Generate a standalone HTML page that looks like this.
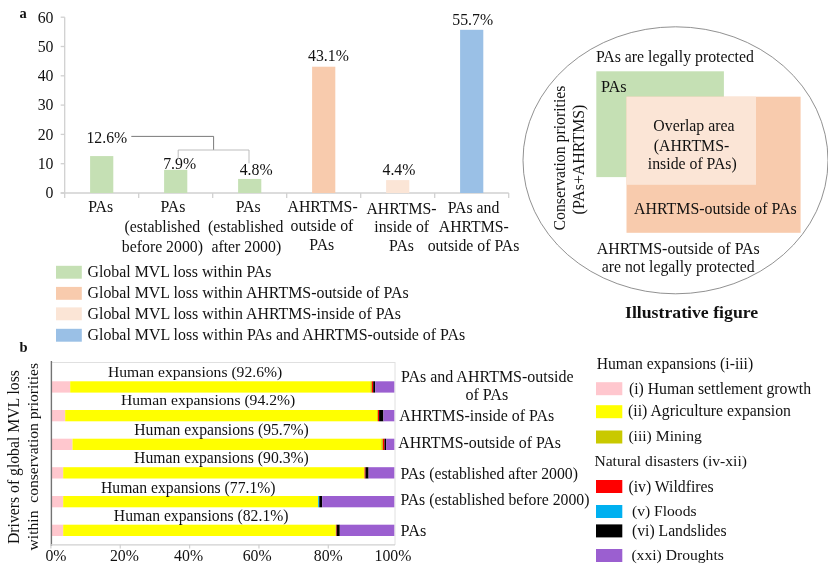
<!DOCTYPE html>
<html lang="en">
<head>
<meta charset="utf-8">
<title>Global MVL loss within conservation priorities</title>
<style>
html,body{margin:0;padding:0;background:#ffffff;}
body{width:828px;height:574px;overflow:hidden;}
svg{display:block;will-change:transform;}
svg text{font-family:"Liberation Serif","DejaVu Serif",serif;fill:#111111;}
</style>
</head>
<body>
<svg width="828" height="574" viewBox="0 0 828 574">
<rect x="0" y="0" width="828" height="574" fill="#ffffff"/>
<g id="panel-a">
<text x="19.60" y="18.00" font-size="14.50" text-anchor="start" font-weight="bold">a</text>
<line x1="64.70" y1="17.20" x2="64.70" y2="198.00" stroke="#d0d0d0" stroke-width="1.3"/>
<line x1="60.70" y1="193.00" x2="64.70" y2="193.00" stroke="#d0d0d0" stroke-width="1.3"/>
<text x="53.50" y="198.30" font-size="15.80" text-anchor="end">0</text>
<line x1="60.70" y1="163.70" x2="64.70" y2="163.70" stroke="#d0d0d0" stroke-width="1.3"/>
<text x="53.50" y="169.00" font-size="15.80" text-anchor="end">10</text>
<line x1="60.70" y1="134.40" x2="64.70" y2="134.40" stroke="#d0d0d0" stroke-width="1.3"/>
<text x="53.50" y="139.70" font-size="15.80" text-anchor="end">20</text>
<line x1="60.70" y1="105.10" x2="64.70" y2="105.10" stroke="#d0d0d0" stroke-width="1.3"/>
<text x="53.50" y="110.40" font-size="15.80" text-anchor="end">30</text>
<line x1="60.70" y1="75.80" x2="64.70" y2="75.80" stroke="#d0d0d0" stroke-width="1.3"/>
<text x="53.50" y="81.10" font-size="15.80" text-anchor="end">40</text>
<line x1="60.70" y1="46.50" x2="64.70" y2="46.50" stroke="#d0d0d0" stroke-width="1.3"/>
<text x="53.50" y="51.80" font-size="15.80" text-anchor="end">50</text>
<line x1="60.70" y1="17.20" x2="64.70" y2="17.20" stroke="#d0d0d0" stroke-width="1.3"/>
<text x="53.50" y="22.50" font-size="15.80" text-anchor="end">60</text>
<line x1="60.70" y1="193.00" x2="508.70" y2="193.00" stroke="#d0d0d0" stroke-width="1.3"/>
<line x1="138.70" y1="193.00" x2="138.70" y2="198.00" stroke="#d0d0d0" stroke-width="1.3"/>
<line x1="212.70" y1="193.00" x2="212.70" y2="198.00" stroke="#d0d0d0" stroke-width="1.3"/>
<line x1="286.70" y1="193.00" x2="286.70" y2="198.00" stroke="#d0d0d0" stroke-width="1.3"/>
<line x1="360.70" y1="193.00" x2="360.70" y2="198.00" stroke="#d0d0d0" stroke-width="1.3"/>
<line x1="434.70" y1="193.00" x2="434.70" y2="198.00" stroke="#d0d0d0" stroke-width="1.3"/>
<line x1="508.70" y1="193.00" x2="508.70" y2="198.00" stroke="#d0d0d0" stroke-width="1.3"/>
<rect x="90.10" y="156.08" width="23.20" height="36.92" fill="#c5e0b4"/>
<rect x="164.10" y="169.85" width="23.20" height="23.15" fill="#c5e0b4"/>
<rect x="238.10" y="178.94" width="23.20" height="14.06" fill="#c5e0b4"/>
<rect x="312.10" y="66.72" width="23.20" height="126.28" fill="#f8cbad"/>
<rect x="386.10" y="180.11" width="23.20" height="12.89" fill="#fbe5d6"/>
<rect x="460.10" y="29.80" width="23.20" height="163.20" fill="#9ac0e6"/>
<text x="86.48" y="143.30" font-size="15.80" text-anchor="start" textLength="40.81" lengthAdjust="spacingAndGlyphs">12.6%</text>
<text x="163.23" y="168.70" font-size="15.80" text-anchor="start" textLength="32.91" lengthAdjust="spacingAndGlyphs">7.9%</text>
<text x="239.73" y="175.20" font-size="15.80" text-anchor="start" textLength="32.91" lengthAdjust="spacingAndGlyphs">4.8%</text>
<text x="308.08" y="60.60" font-size="15.80" text-anchor="start" textLength="40.81" lengthAdjust="spacingAndGlyphs">43.1%</text>
<text x="382.53" y="175.40" font-size="15.80" text-anchor="start" textLength="32.91" lengthAdjust="spacingAndGlyphs">4.4%</text>
<text x="452.28" y="25.10" font-size="15.80" text-anchor="start" textLength="40.81" lengthAdjust="spacingAndGlyphs">55.7%</text>
<path d="M131.3 136.4 H213.6 V150.0" fill="none" stroke="#6b6b6b" stroke-width="0.9"/>
<path d="M178.2 159 V150.0 H249 V163.3" fill="none" stroke="#b5b5b5" stroke-width="0.9"/>
<text x="88.26" y="211.80" font-size="15.80" text-anchor="start" textLength="24.90" lengthAdjust="spacingAndGlyphs">PAs</text>
<text x="160.46" y="211.80" font-size="15.80" text-anchor="start" textLength="24.90" lengthAdjust="spacingAndGlyphs">PAs</text>
<text x="124.58" y="232.20" font-size="15.80" text-anchor="start" textLength="75.46" lengthAdjust="spacingAndGlyphs">(established</text>
<text x="121.83" y="251.60" font-size="15.80" text-anchor="start" textLength="81.16" lengthAdjust="spacingAndGlyphs">before 2000)</text>
<text x="235.76" y="211.80" font-size="15.80" text-anchor="start" textLength="24.90" lengthAdjust="spacingAndGlyphs">PAs</text>
<text x="207.98" y="232.20" font-size="15.80" text-anchor="start" textLength="75.46" lengthAdjust="spacingAndGlyphs">(established</text>
<text x="211.42" y="251.60" font-size="15.80" text-anchor="start" textLength="69.75" lengthAdjust="spacingAndGlyphs">after 2000)</text>
<text x="287.52" y="212.20" font-size="15.80" text-anchor="start" textLength="70.16" lengthAdjust="spacingAndGlyphs">AHRTMS-</text>
<text x="290.60" y="231.20" font-size="15.80" text-anchor="start" textLength="62.75" lengthAdjust="spacingAndGlyphs">outside of</text>
<text x="309.36" y="250.30" font-size="15.80" text-anchor="start" textLength="24.90" lengthAdjust="spacingAndGlyphs">PAs</text>
<text x="366.42" y="213.60" font-size="15.80" text-anchor="start" textLength="70.16" lengthAdjust="spacingAndGlyphs">AHRTMS-</text>
<text x="374.25" y="232.10" font-size="15.80" text-anchor="start" textLength="54.85" lengthAdjust="spacingAndGlyphs">inside of</text>
<text x="389.06" y="251.40" font-size="15.80" text-anchor="start" textLength="24.90" lengthAdjust="spacingAndGlyphs">PAs</text>
<text x="447.67" y="213.10" font-size="15.80" text-anchor="start" textLength="51.66" lengthAdjust="spacingAndGlyphs">PAs and</text>
<text x="438.72" y="232.10" font-size="15.80" text-anchor="start" textLength="70.16" lengthAdjust="spacingAndGlyphs">AHRTMS-</text>
<text x="427.72" y="251.40" font-size="15.80" text-anchor="start" textLength="91.60" lengthAdjust="spacingAndGlyphs">outside of PAs</text>
<rect x="56.00" y="265.80" width="25.80" height="12.90" fill="#c5e0b4"/>
<text x="87.50" y="277.00" font-size="15.86" text-anchor="start" textLength="183.89" lengthAdjust="spacingAndGlyphs">Global MVL loss within PAs</text>
<rect x="56.00" y="286.90" width="25.80" height="12.90" fill="#f8cbad"/>
<text x="87.50" y="297.80" font-size="15.90" text-anchor="start" textLength="321.12" lengthAdjust="spacingAndGlyphs">Global MVL loss within AHRTMS-outside of PAs</text>
<rect x="56.00" y="307.40" width="25.80" height="12.90" fill="#fbe5d6"/>
<text x="87.50" y="318.70" font-size="15.90" text-anchor="start" textLength="313.32" lengthAdjust="spacingAndGlyphs">Global MVL loss within AHRTMS-inside of PAs</text>
<rect x="56.00" y="328.80" width="25.80" height="12.90" fill="#9ac0e6"/>
<text x="87.50" y="340.00" font-size="15.92" text-anchor="start" textLength="377.61" lengthAdjust="spacingAndGlyphs">Global MVL loss within PAs and AHRTMS-outside of PAs</text>
</g>
<g id="illustration">
<ellipse cx="675.5" cy="160.3" rx="152.5" ry="133.5" fill="none" stroke="#7d7d7d" stroke-width="0.85"/>
<rect x="596.30" y="71.30" width="127.60" height="105.80" fill="#c5e0b4"/>
<rect x="626.50" y="96.70" width="174.10" height="136.10" fill="#f8cbad"/>
<rect x="626.50" y="96.70" width="129.50" height="88.10" fill="#fbe5d6"/>
<text x="595.90" y="61.50" font-size="15.82" text-anchor="start" textLength="157.96" lengthAdjust="spacingAndGlyphs">PAs are legally protected</text>
<text x="600.90" y="92.20" font-size="16.25" text-anchor="start" textLength="25.61" lengthAdjust="spacingAndGlyphs">PAs</text>
<text x="653.33" y="130.80" font-size="15.80" text-anchor="start" textLength="81.14" lengthAdjust="spacingAndGlyphs">Overlap area</text>
<text x="653.78" y="150.50" font-size="15.80" text-anchor="start" textLength="75.42" lengthAdjust="spacingAndGlyphs">(AHRTMS-</text>
<text x="647.82" y="168.70" font-size="15.80" text-anchor="start" textLength="88.96" lengthAdjust="spacingAndGlyphs">inside of PAs)</text>
<text x="634.00" y="213.50" font-size="15.88" text-anchor="start" textLength="162.57" lengthAdjust="spacingAndGlyphs">AHRTMS-outside of PAs</text>
<text x="596.70" y="253.50" font-size="15.93" text-anchor="start" textLength="163.07" lengthAdjust="spacingAndGlyphs">AHRTMS-outside of PAs</text>
<text x="601.70" y="272.00" font-size="15.79" text-anchor="start" textLength="153.00" lengthAdjust="spacingAndGlyphs">are not legally protected</text>
<text x="565.30" y="230.50" font-size="15.77" textLength="144.97" lengthAdjust="spacingAndGlyphs" transform="rotate(-90 565.30 230.50)">Conservation priorities</text>
<text x="583.80" y="214.40" font-size="15.88" textLength="109.77" lengthAdjust="spacingAndGlyphs" transform="rotate(-90 583.80 214.40)">(PAs+AHRTMS)</text>
<text x="625.00" y="317.90" font-size="17.74" text-anchor="start" font-weight="bold" textLength="133.17" lengthAdjust="spacingAndGlyphs">Illustrative figure</text>
</g>
<g id="panel-b">
<text x="19.60" y="352.40" font-size="14.50" text-anchor="start" font-weight="bold">b</text>
<line x1="51.90" y1="362.50" x2="395.00" y2="362.50" stroke="#e0e0e0" stroke-width="1"/>
<line x1="395.00" y1="362.00" x2="395.00" y2="545.00" stroke="#e0e0e0" stroke-width="1"/>
<rect x="51.90" y="381.30" width="18.30" height="11.30" fill="#ffc7ce"/>
<rect x="70.20" y="381.30" width="300.20" height="11.30" fill="#ffff00"/>
<rect x="370.40" y="381.30" width="1.50" height="11.30" fill="#c9c900"/>
<rect x="371.90" y="381.30" width="1.30" height="11.30" fill="#ff0000"/>
<rect x="373.20" y="381.30" width="2.00" height="11.30" fill="#000000"/>
<rect x="375.20" y="381.30" width="19.10" height="11.30" fill="#9b5fd0"/>
<rect x="51.90" y="410.00" width="13.30" height="11.30" fill="#ffc7ce"/>
<rect x="65.20" y="410.00" width="311.90" height="11.30" fill="#ffff00"/>
<rect x="377.10" y="410.00" width="0.90" height="11.30" fill="#c9c900"/>
<rect x="378.00" y="410.00" width="1.10" height="11.30" fill="#ff0000"/>
<rect x="379.10" y="410.00" width="4.30" height="11.30" fill="#000000"/>
<rect x="383.40" y="410.00" width="10.90" height="11.30" fill="#9b5fd0"/>
<rect x="51.90" y="438.70" width="20.60" height="11.30" fill="#ffc7ce"/>
<rect x="72.50" y="438.70" width="308.80" height="11.30" fill="#ffff00"/>
<rect x="381.30" y="438.70" width="1.60" height="11.30" fill="#c9c900"/>
<rect x="382.90" y="438.70" width="1.60" height="11.30" fill="#ff0000"/>
<rect x="384.50" y="438.70" width="1.60" height="11.30" fill="#000000"/>
<rect x="386.10" y="438.70" width="8.20" height="11.30" fill="#9b5fd0"/>
<rect x="51.90" y="467.20" width="11.30" height="11.30" fill="#ffc7ce"/>
<rect x="63.20" y="467.20" width="301.00" height="11.30" fill="#ffff00"/>
<rect x="364.20" y="467.20" width="0.40" height="11.30" fill="#c9c900"/>
<rect x="364.60" y="467.20" width="0.90" height="11.30" fill="#ff0000"/>
<rect x="365.50" y="467.20" width="3.10" height="11.30" fill="#000000"/>
<rect x="368.60" y="467.20" width="25.70" height="11.30" fill="#9b5fd0"/>
<rect x="51.90" y="496.00" width="11.30" height="11.30" fill="#ffc7ce"/>
<rect x="63.20" y="496.00" width="255.00" height="11.30" fill="#ffff00"/>
<rect x="318.20" y="496.00" width="1.10" height="11.30" fill="#00b0f0"/>
<rect x="319.30" y="496.00" width="2.90" height="11.30" fill="#000000"/>
<rect x="322.20" y="496.00" width="72.10" height="11.30" fill="#9b5fd0"/>
<rect x="51.90" y="524.70" width="11.30" height="11.30" fill="#ffc7ce"/>
<rect x="63.20" y="524.70" width="272.40" height="11.30" fill="#ffff00"/>
<rect x="335.60" y="524.70" width="0.50" height="11.30" fill="#c9c900"/>
<rect x="336.10" y="524.70" width="0.60" height="11.30" fill="#ff0000"/>
<rect x="336.70" y="524.70" width="3.10" height="11.30" fill="#000000"/>
<rect x="339.80" y="524.70" width="54.50" height="11.30" fill="#9b5fd0"/>
<line x1="51.40" y1="361.00" x2="51.40" y2="546.00" stroke="#737373" stroke-width="1.4"/>
<line x1="50.60" y1="544.80" x2="395.00" y2="544.80" stroke="#d0d0d0" stroke-width="1.3"/>
<line x1="50.90" y1="544.80" x2="50.90" y2="548.50" stroke="#d0d0d0" stroke-width="1.2"/>
<line x1="120.25" y1="544.80" x2="120.25" y2="548.50" stroke="#d0d0d0" stroke-width="1.2"/>
<line x1="189.60" y1="544.80" x2="189.60" y2="548.50" stroke="#d0d0d0" stroke-width="1.2"/>
<line x1="258.95" y1="544.80" x2="258.95" y2="548.50" stroke="#d0d0d0" stroke-width="1.2"/>
<line x1="328.30" y1="544.80" x2="328.30" y2="548.50" stroke="#d0d0d0" stroke-width="1.2"/>
<text x="45.45" y="561.20" font-size="15.80" text-anchor="start" textLength="21.06" lengthAdjust="spacingAndGlyphs">0%</text>
<text x="109.90" y="561.20" font-size="15.80" text-anchor="start" textLength="28.96" lengthAdjust="spacingAndGlyphs">20%</text>
<text x="174.10" y="561.20" font-size="15.80" text-anchor="start" textLength="28.96" lengthAdjust="spacingAndGlyphs">40%</text>
<text x="242.70" y="561.20" font-size="15.80" text-anchor="start" textLength="28.96" lengthAdjust="spacingAndGlyphs">60%</text>
<text x="313.80" y="561.20" font-size="15.80" text-anchor="start" textLength="28.96" lengthAdjust="spacingAndGlyphs">80%</text>
<text x="374.55" y="561.20" font-size="15.80" text-anchor="start" textLength="36.86" lengthAdjust="spacingAndGlyphs">100%</text>
<text x="108.00" y="377.10" font-size="15.64" text-anchor="start" textLength="174.23" lengthAdjust="spacingAndGlyphs">Human expansions (92.6%)</text>
<text x="121.00" y="405.20" font-size="15.64" text-anchor="start" textLength="174.23" lengthAdjust="spacingAndGlyphs">Human expansions (94.2%)</text>
<text x="134.30" y="434.60" font-size="15.67" text-anchor="start" textLength="174.53" lengthAdjust="spacingAndGlyphs">Human expansions (95.7%)</text>
<text x="134.10" y="463.40" font-size="15.69" text-anchor="start" textLength="174.73" lengthAdjust="spacingAndGlyphs">Human expansions (90.3%)</text>
<text x="101.00" y="493.40" font-size="15.67" text-anchor="start" textLength="174.53" lengthAdjust="spacingAndGlyphs">Human expansions (77.1%)</text>
<text x="113.80" y="521.20" font-size="15.69" text-anchor="start" textLength="174.73" lengthAdjust="spacingAndGlyphs">Human expansions (82.1%)</text>
<text x="18.80" y="544.00" font-size="15.71" textLength="173.96" lengthAdjust="spacingAndGlyphs" transform="rotate(-90 18.80 544.00)">Drivers of global MVL loss</text>
<text x="37.60" y="550.40" font-size="15.58" textLength="187.40" lengthAdjust="spacingAndGlyphs" transform="rotate(-90 37.60 550.40)" xml:space="preserve">within  conservation priorities</text>
<text x="401.00" y="381.60" font-size="15.98" text-anchor="start" textLength="172.48" lengthAdjust="spacingAndGlyphs">PAs and AHRTMS-outside</text>
<text x="465.40" y="400.40" font-size="16.09" text-anchor="start" textLength="42.78" lengthAdjust="spacingAndGlyphs">of PAs</text>
<text x="399.20" y="421.00" font-size="15.91" text-anchor="start" textLength="154.97" lengthAdjust="spacingAndGlyphs">AHRTMS-inside of PAs</text>
<text x="398.20" y="448.00" font-size="15.90" text-anchor="start" textLength="162.77" lengthAdjust="spacingAndGlyphs">AHRTMS-outside of PAs</text>
<text x="400.40" y="478.60" font-size="15.76" text-anchor="start" textLength="177.52" lengthAdjust="spacingAndGlyphs">PAs (established after 2000)</text>
<text x="400.40" y="505.20" font-size="15.77" text-anchor="start" textLength="189.08" lengthAdjust="spacingAndGlyphs">PAs (established before 2000)</text>
<text x="400.60" y="536.00" font-size="16.25" text-anchor="start" textLength="25.61" lengthAdjust="spacingAndGlyphs">PAs</text>
<text x="596.70" y="368.50" font-size="15.65" text-anchor="start" textLength="156.47" lengthAdjust="spacingAndGlyphs">Human expansions (i-iii)</text>
<text x="594.40" y="465.50" font-size="15.61" text-anchor="start" textLength="152.60" lengthAdjust="spacingAndGlyphs">Natural disasters (iv-xii)</text>
<rect x="596.00" y="382.20" width="26.30" height="13.00" fill="#ffc7ce"/>
<text x="629.00" y="393.50" font-size="15.72" text-anchor="start" textLength="182.01" lengthAdjust="spacingAndGlyphs">(i) Human settlement growth</text>
<rect x="596.00" y="405.20" width="26.30" height="13.00" fill="#ffff00"/>
<text x="628.10" y="416.20" font-size="15.77" text-anchor="start" textLength="162.91" lengthAdjust="spacingAndGlyphs">(ii) Agriculture expansion</text>
<rect x="596.00" y="430.50" width="26.30" height="13.00" fill="#c9c900"/>
<text x="628.40" y="441.00" font-size="15.63" text-anchor="start" textLength="73.39" lengthAdjust="spacingAndGlyphs">(iii) Mining</text>
<rect x="596.00" y="480.00" width="26.30" height="13.00" fill="#ff0000"/>
<text x="628.40" y="491.90" font-size="15.75" text-anchor="start" textLength="85.23" lengthAdjust="spacingAndGlyphs">(iv) Wildfires</text>
<rect x="596.00" y="505.00" width="26.30" height="13.00" fill="#00b0f0"/>
<text x="632.00" y="515.80" font-size="15.58" text-anchor="start" textLength="64.49" lengthAdjust="spacingAndGlyphs">(v) Floods</text>
<rect x="596.00" y="524.40" width="26.30" height="13.00" fill="#000000"/>
<text x="632.00" y="535.90" font-size="15.68" text-anchor="start" textLength="94.52" lengthAdjust="spacingAndGlyphs">(vi) Landslides</text>
<rect x="596.00" y="549.00" width="26.30" height="13.00" fill="#9b5fd0"/>
<text x="631.40" y="560.00" font-size="15.62" text-anchor="start" textLength="92.42" lengthAdjust="spacingAndGlyphs">(xxi) Droughts</text>
</g>
</svg>
</body>
</html>
